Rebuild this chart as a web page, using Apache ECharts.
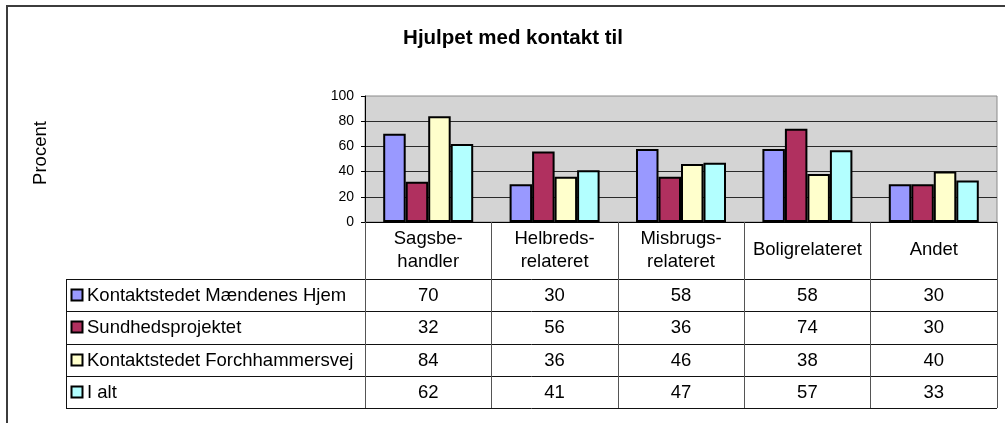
<!DOCTYPE html>
<html>
<head>
<meta charset="utf-8">
<script src="https://cdn.jsdelivr.net/npm/echarts@6/dist/echarts.min.js"></script>
<style>
  html, body { margin: 0; padding: 0; background: #ffffff; }
  #chart { width: 1005px; height: 423px; }
</style>
</head>
<body>
<div id="chart"></div>
<script>
// Categories along the x axis (line breaks as shown in the table header)
const categories = ['Sagsbe-\nhandler', 'Helbreds-\nrelateret', 'Misbrugs-\nrelateret', 'Boligrelateret', 'Andet'];

// Series names (row labels of the data table)
const seriesNames = ['Kontaktstedet Mændenes Hjem', 'Sundhedsprojektet', 'Kontaktstedet Forchhammersvej', 'I alt'];

// Percent values per category
const maendenesHjem     = [70, 30, 58, 58, 30];
const sundhedsprojektet = [32, 56, 36, 74, 30];
const forchhammersvej   = [84, 36, 46, 38, 40];
const iAlt              = [62, 41, 47, 57, 33];

// Value axis ticks
const yTicks = [0, 20, 40, 60, 80, 100];

const titleText = 'Hjulpet med kontakt til';
const axisTitle = 'Procent';

const seriesColors = ['#9999ff', '#b0305f', '#ffffcc', '#b3ffff'];
const seriesData = [maendenesHjem, sundhedsprojektet, forchhammersvej, iAlt];

const FONT = '"Liberation Sans", Arial, sans-serif';

// Layout of plot and data table
const plot = { left: 365, right: 8, top: 96, height: 126 };
const table = { left: 66, headerH: 57, rowH: 32.25 };

const chart = echarts.init(document.getElementById('chart'), null, { renderer: 'canvas' });

chart.setOption({
  animation: false,
  backgroundColor: '#ffffff',
  title: {
    text: titleText,
    left: 508,
    top: 23,
    textAlign: 'center',
    textStyle: { fontFamily: FONT, fontSize: 20.5, fontWeight: 'bold', color: '#000' }
  },
  grid: {
    left: plot.left, right: plot.right, top: plot.top, height: plot.height,
    show: true, backgroundColor: '#d4d4d4', borderColor: '#8a8a8a', borderWidth: 1,
    containLabel: false
  },
  xAxis: {
    type: 'category',
    data: categories,
    boundaryGap: true,
    axisLine: { show: true, lineStyle: { color: '#000', width: 1 } },
    axisTick: {
      show: true, alignWithLabel: false, inside: false,
      length: table.headerH + table.rowH * seriesNames.length,
      lineStyle: { color: '#555', width: 1 }
    },
    axisLabel: {
      interval: 0, margin: 28, verticalAlign: 'middle', align: 'center',
      fontFamily: FONT, fontSize: 18.5, lineHeight: 23, color: '#000'
    },
    splitLine: { show: false }
  },
  yAxis: {
    type: 'value',
    min: yTicks[0], max: yTicks[yTicks.length - 1], interval: yTicks[1] - yTicks[0],
    axisLine: { show: true, lineStyle: { color: '#000', width: 1 } },
    axisTick: { show: true, length: 4, lineStyle: { color: '#000' } },
    axisLabel: { margin: 11, fontFamily: FONT, fontSize: 14, color: '#000' },
    splitLine: { show: true, showMinLine: false, showMaxLine: false, lineStyle: { color: '#2a2a2a', width: 1 } }
  },
  series: seriesNames.map((name, i) => ({
    name: name,
    type: 'bar',
    data: seriesData[i],
    barWidth: 22.5,
    barGap: '0%',
    itemStyle: { color: seriesColors[i], borderColor: '#000', borderWidth: 2 }
  }))
});

// Data table below the plot: row lines, row labels with color keys, values
function drawTable() {
  const axisY = chart.convertToPixel({ yAxisIndex: 0 }, 0);
  const centers = categories.map((c, i) => chart.convertToPixel({ xAxisIndex: 0 }, i));
  const band = centers[1] - centers[0];
  const tableRight = centers[centers.length - 1] + band / 2;
  const rowsTop = axisY + table.headerH;
  const rowsBottom = rowsTop + table.rowH * seriesNames.length;

  const g = [];
  // frame around the whole chart area
  g.push({
    type: 'rect', shape: { x: 7, y: 6, width: 1020, height: 440 },
    style: { fill: 'none', stroke: '#3c3c3c', lineWidth: 2 }, silent: true
  });
  // vertical axis title
  g.push({
    type: 'text', x: 41, y: 153, rotation: Math.PI / 2,
    style: { text: axisTitle, fontFamily: FONT, fontSize: 18.5, fill: '#000', align: 'center', verticalAlign: 'middle' }
  });
  // horizontal table lines
  for (let r = 0; r <= seriesNames.length; r++) {
    const y = Math.round(rowsTop + r * table.rowH) + 0.5;
    g.push({
      type: 'line', shape: { x1: table.left, y1: y, x2: tableRight, y2: y },
      style: { stroke: '#111', lineWidth: 1 }, silent: true
    });
  }
  // left border of the label column
  g.push({
    type: 'line', shape: { x1: table.left + 0.5, y1: rowsTop, x2: table.left + 0.5, y2: rowsBottom },
    style: { stroke: '#111', lineWidth: 1 }, silent: true
  });
  // rows
  seriesNames.forEach((name, r) => {
    const cy = rowsTop + (r + 0.5) * table.rowH;
    g.push({
      type: 'rect', shape: { x: table.left + 5.5, y: Math.round(cy - 6) + 0.5, width: 11, height: 11 },
      style: { fill: seriesColors[r], stroke: '#000', lineWidth: 2 }, silent: true
    });
    g.push({
      type: 'text', x: table.left + 21, y: cy + 1,
      style: { text: name, fontFamily: FONT, fontSize: 18.5, fill: '#000', align: 'left', verticalAlign: 'middle' }
    });
    seriesData[r].forEach((v, c) => {
      g.push({
        type: 'text', x: centers[c], y: cy + 1,
        style: { text: String(v), fontFamily: FONT, fontSize: 18.5, fill: '#000', align: 'center', verticalAlign: 'middle' }
      });
    });
  });
  chart.setOption({ graphic: g });
}
drawTable();
</script>
</body>
</html>
